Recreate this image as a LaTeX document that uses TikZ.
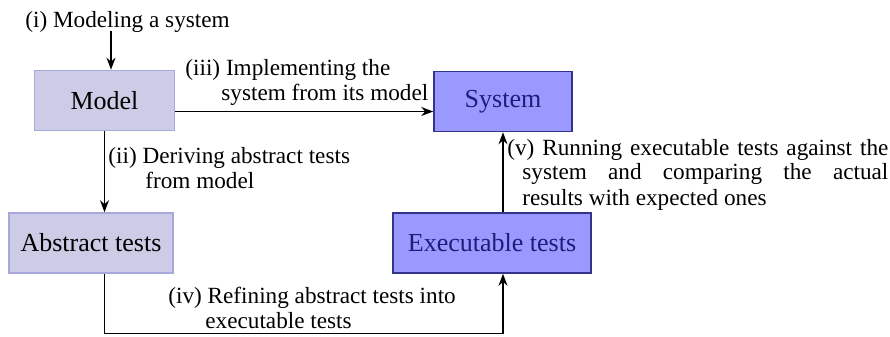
\documentclass[tikz,border=0pt]{standalone}
\usepackage{fontspec}
\setmainfont{Liberation Serif}
\usetikzlibrary{arrows.meta,positioning}

\definecolor{palefill}{RGB}{204,204,230}
\definecolor{paleedge}{RGB}{168,168,220}
\definecolor{deepfill}{RGB}{153,153,255}
\definecolor{deepedge}{RGB}{51,51,140}
\definecolor{deeptext}{RGB}{30,30,120}

\tikzset{
  pale/.style={draw=paleedge, fill=palefill, line width=0.8pt, inner sep=0pt,
    font=\fontsize{13}{15}\selectfont},
  deep/.style={draw=deepedge, fill=deepfill, text=deeptext, line width=0.8pt, inner sep=0pt,
    font=\fontsize{13}{15}\selectfont},
  lbl/.style={font=\fontsize{11.6}{12.5}\selectfont, inner sep=0pt, align=left, anchor=base west},
  flow/.style={-{Stealth[length=6pt,width=4.5pt]}, line width=0.65pt}
}

\begin{document}
\begin{tikzpicture}[x=0.5pt,y=-0.5pt]
  \useasboundingbox (0,0) rectangle (890,337);
  % boxes
  \node[pale, minimum width=70pt, minimum height=30pt] (model) at (104.5,100.5) {Model};
  \node[deep, minimum width=69pt, minimum height=30pt] (system) at (503,101.5) {System};
  \node[pale, minimum width=82pt, minimum height=30pt] (abstract) at (91,243) {Abstract tests};
  \node[deep, minimum width=99pt, minimum height=30pt] (exec) at (492,243) {Executable tests};
  % labels (base = last line)
  \node[lbl] (modeling) at (25,27) {(i) Modeling a system};
  \node[lbl] (deriving) at (108,188) {(ii) Deriving abstract tests\\\hspace*{18.5pt}from model};
  \node[lbl] (implementing) at (185,100) {(iii) Implementing the\\\hspace*{18pt}system from its model};
  \node[lbl] (refining) at (168,328) {(iv) Refining abstract tests into\\\hspace*{18.5pt}executable tests};
  \node[lbl, text width=190.5pt, align=justify] (running) at (507,155)
    {\hangindent=7.5pt\hangafter=1 (v) Running executable tests against the\linebreak
     system and comparing the actual\linebreak results with expected ones\par};
  % connectors
  \coordinate (mtop) at (111,31);
  \draw[flow] (mtop) -- (mtop |- model.north);
  \draw[flow] (model.south) -- (model.south |- abstract.north);
  \coordinate (mout) at ([yshift=-5.5pt]model.east);
  \draw[flow] (mout) -- (mout -| system.west);
  \draw[flow] (model.south |- abstract.south) -- ++(0,60) -| (system.south |- exec.south);
  \draw[flow] (system.south |- exec.north) -- (system.south);
\end{tikzpicture}
\end{document}
